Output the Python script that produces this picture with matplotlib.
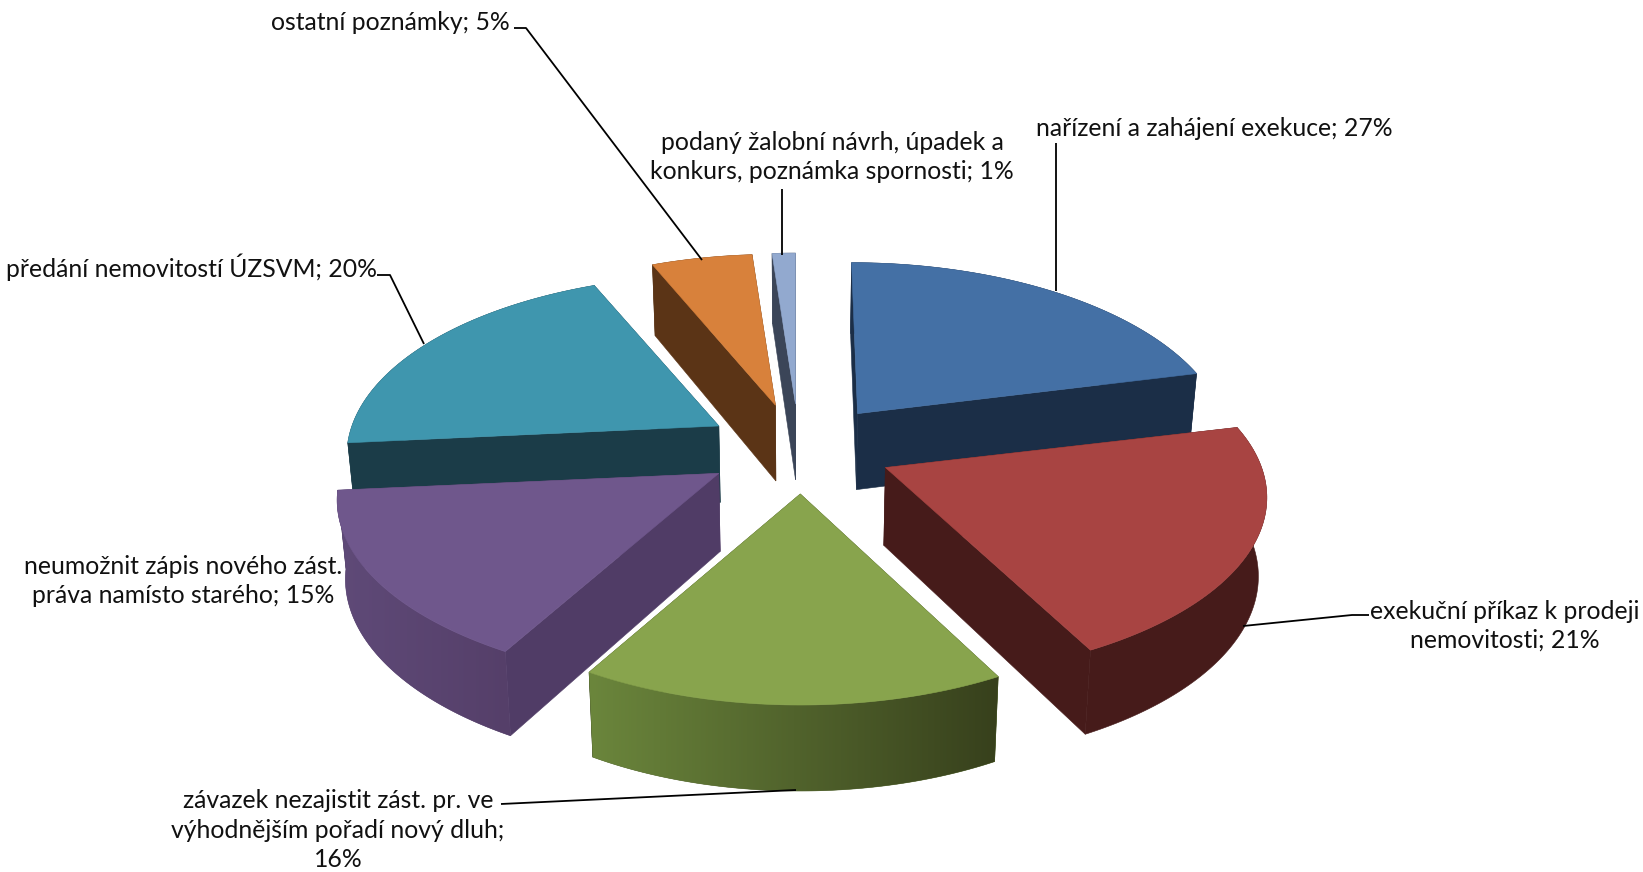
import numpy as np
import matplotlib
matplotlib.use("Agg")
import matplotlib.pyplot as plt
from matplotlib.colors import to_rgb
from matplotlib.patches import Polygon

W, H = 1643, 872
plt.rcParams['font.family'] = ['Lato', 'DejaVu Sans']

# Categories as printed, printed percentages, and drawn shares
categories = [
    "nařízení a zahájení exekuce",
    "exekuční příkaz k prodeji\nnemovitosti",
    "závazek nezajistit zást. pr. ve\nvýhodnějším pořadí nový dluh;\n",
    "neumožnit zápis nového zást.\npráva namísto starého",
    "předání nemovitostí ÚZSVM",
    "ostatní poznámky",
    "podaný žalobní návrh, úpadek a\nkonkurs, poznámka spornosti",
]
printed_pct = [27, 21, 16, 15, 20, 5, 1]
drawn_share = [21.2, 21.1, 16, 15.2, 20.1, 5.2, 1.2]

top_colors = ["#4470a5", "#a84442", "#88a44d", "#6f578c", "#3f96ae", "#d8813b", "#92a9cf"]
wall_colors = ["#1b2e47", "#461b1a", "#3a441e", "#503c66", "#1b3c48", "#5b3416", "#3b4558"]
# wall colour at the left and right screen edge of each slice's curved side
arc_left = ["#1b2e47", "#461b1a", "#6b863c", "#5f4a78", "#1b3c48", "#5b3416", "#3b4558"]
arc_right = ["#1b2e47", "#461b1a", "#37401c", "#553f69", "#1b3c48", "#5b3416", "#3b4558"]

# slice placement tweaks
explode_x = [98, 97, 91, 93, 91, 91, 40]
shift_x = [0, 0, 5, 0, 0, 0, 0]
width_scale = [1.0, 1.0, 0.95, 1.0, 1.0, 1.0, 1.0]
lean = [-6, 0, 0, -7, 0, 0, 0]

label_xy = [(1214, 128), (1505, 626), (338, 830), (183, 581), (191, 267), (390, 22), (832, 157)]
leaders = [
    [(1056, 143), (1056, 291)],
    [(1369, 615), (1352, 615), (1243, 626)],
    [(501, 804), (796, 790)],
    None,
    [(377, 275), (390, 275), (424, 344)],
    [(514, 28), (526, 28), (702, 260)],
    [(782, 189), (782, 255)],
]

CX, CY, EY = 797, 449, 45
A, B, P = 372, 176, 0.166
DRAW_ORDER = [6, 5, 0, 4, 1, 3, 2]


def project(i, apex, theta):
    u, v = np.sin(theta), -np.cos(theta)
    d = 1 - P * v
    sx = (1 + (apex[1] - CY) * 0.0006) * width_scale[i]
    return apex[0] + A * sx * u / d - lean[i] * v, apex[1] + B * v / d


def drop(x, y):
    depth = 71 + 0.0343 * (y - 268)
    return CX + (x - CX) * 0.982, y + depth


def quad(ax, pts, color, z):
    ax.add_patch(Polygon(pts, closed=True, facecolor=color, edgecolor=color, lw=0.4, zorder=z))


fig = plt.figure(figsize=(W / 100, H / 100), dpi=100)
ax = fig.add_axes([0, 0, 1, 1])

edges = np.radians(np.concatenate([[0], np.cumsum(drawn_share)]) * 360 / sum(drawn_share))
z = 2.0
for i in DRAW_ORDER:
    t0, t1 = edges[i], edges[i + 1]
    mid = (t0 + t1) / 2
    apex = (CX + shift_x[i] + explode_x[i] * np.sin(mid), CY - EY * np.cos(mid))
    ts = np.linspace(t0, t1, 120)
    rim = [project(i, apex, t) for t in ts]
    for p in (rim[0], rim[-1]):
        quad(ax, [apex, p, drop(*p), drop(*apex)], wall_colors[i], z)
    z += 0.01
    wall = rim + [drop(*p) for p in rim[::-1]]
    c0, c1 = np.array(to_rgb(arc_left[i])), np.array(to_rgb(arc_right[i]))
    quad(ax, wall, tuple((c0 + c1) / 2), z)
    z += 0.01
    if arc_left[i] != arc_right[i]:
        xs = [p[0] for p in wall]
        ys = [p[1] for p in wall]
        ramp = np.linspace(0, 1, 256)[None, :, None]
        img = ax.imshow(c0 + (c1 - c0) * ramp, extent=(min(xs), max(xs), max(ys), min(ys)),
                        aspect="auto", zorder=z, interpolation="bilinear")
        clip = Polygon(wall, closed=True, transform=ax.transData)
        img.set_clip_path(clip)
    z += 0.01
    quad(ax, [apex] + rim, top_colors[i], z)
    z += 0.01

ax.set_xlim(0, W)
ax.set_ylim(H, 0)
ax.axis("off")

for i, name in enumerate(categories):
    sep = "" if name.endswith("\n") else "; "
    ax.text(label_xy[i][0], label_xy[i][1], f"{name}{sep}{printed_pct[i]}%", ha="center",
            va="center", ma="center", fontsize=17.8, color="#111111", linespacing=1.32, zorder=20)
    if leaders[i]:
        ax.plot(*zip(*leaders[i]), color="black", lw=1.3, zorder=10, solid_capstyle="butt")

fig.savefig("out.png", dpi=100)
